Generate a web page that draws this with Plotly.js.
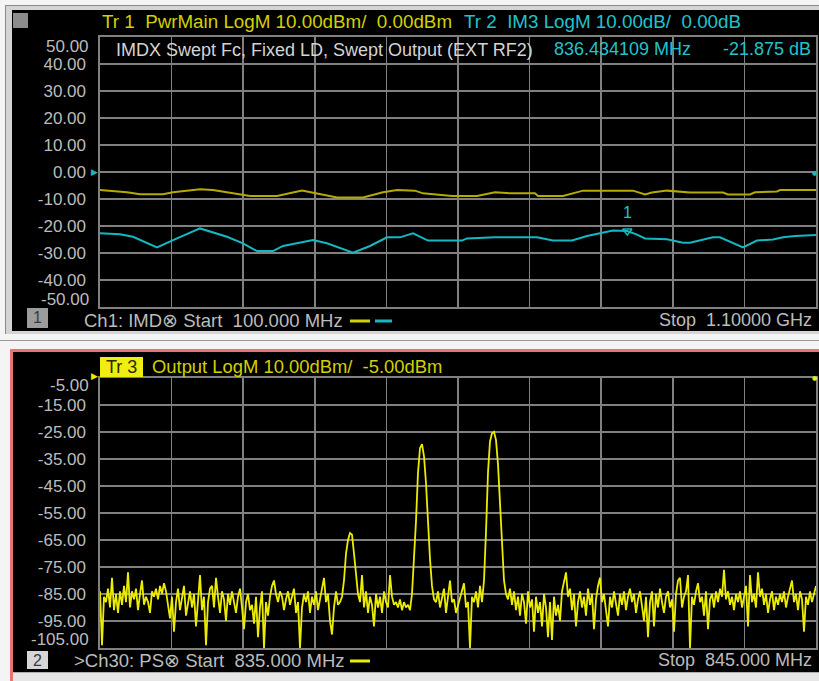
<!DOCTYPE html>
<html>
<head>
<meta charset="utf-8">
<script src="https://cdn.plot.ly/plotly-3.0.1.min.js"></script>
<style>
html,body{margin:0;padding:0;}
body{width:819px;height:681px;overflow:hidden;position:relative;background:#f4f4f4;}
.frame1{position:absolute;left:5px;top:5px;width:814px;height:328px;border-top:1px solid #8a8a8a;border-left:1px solid #8a8a8a;background:#d4d4d4;}
.panel1{position:absolute;left:12px;top:10px;width:807px;height:321px;background:#000;}
.sep{position:absolute;left:0;top:340px;width:819px;height:1px;background:#9a9a9a;}
.panel2{position:absolute;left:10px;top:349px;width:809px;height:332px;border-top:3px solid #e87474;border-left:3px solid #e87474;box-sizing:border-box;background:#000;}
.foot{position:absolute;left:13px;top:672px;width:806px;height:9px;background:#e6e6e6;border-top:1px solid #b0b0b0;}
#chart{position:absolute;left:0;top:0;width:819px;height:681px;}
</style>
</head>
<body>
<div class="frame1"></div>
<div class="panel1"></div>
<div class="sep"></div>
<div class="panel2"></div>
<div class="foot"></div>
<div id="chart"></div>
<script>
// ---- Channel 1 (swept Fc, 100 MHz .. 1.1 GHz) ----
const ch1Start = 100, ch1Stop = 1100;              // MHz
const tr1Freq = [100,137.7,155.9,188,202,239.7,257.8,285.8,309.5,347.2,365.4,382.1,403.1,431,467.3,495.3,514.8,539.9,551.1,591.6,626.5,651.7,672.6,707.5,711.7,746.6,774.6,844.4,861.2,870.9,891.9,910,924,970.1,977.1,1007.8,1014.8,1045.5,1049.7,1100];
const tr1PwrMain = [-6.7,-7.5,-8.2,-8.2,-7.5,-6.4,-6.7,-7.8,-8.9,-8.9,-7.8,-6.9,-8.0,-9.4,-9.4,-7.5,-6.7,-6.9,-7.9,-8.9,-8.9,-7.5,-7.9,-7.9,-8.9,-8.9,-6.9,-6.9,-8.3,-7.6,-6.9,-7.2,-7.6,-7.6,-8.3,-8.3,-7.5,-7.2,-6.7,-6.7];
const tr2Freq = [100,127.9,146.1,179.6,207.5,239.7,277.4,299.7,319.3,341.6,355.6,397.5,417,453.4,477.1,500.8,519,537.2,558.1,605.6,612.6,651.7,710.3,732.7,759.2,780.2,798.3,816.5,836.434109,850,861.2,891.9,914.2,924,956.1,965.9,998,1017.6,1039.9,1053.9,1070.7,1100];
const tr2IM3 = [-22.7,-23.1,-24.0,-27.9,-24.6,-20.9,-24.0,-26.4,-29.3,-29.3,-27.4,-25.2,-26.4,-29.9,-27.4,-24.2,-24.2,-22.7,-25.4,-25.4,-24.6,-24.2,-24.2,-25.4,-25.4,-23.7,-22.7,-21.7,-21.875,-23.2,-24.6,-24.9,-26.2,-26.2,-24.2,-24.2,-27.9,-25.4,-25.0,-24.2,-23.7,-23.3];
const marker1Freq = [836.434109];
const marker1Val = [-21.875];
const ch1Ticks = [40,30,20,10,0,-10,-20,-30,-40];
const ch1TickText = ["40.00","30.00","20.00","10.00","0.00","-10.00","-20.00","-30.00","-40.00"];

// ---- Channel 30 (spectrum, 835 .. 845 MHz) ----
const ch30Start = 835, ch30Stop = 845;             // MHz
const tr3Output = [
-84,-104,-86,-88,-83,-90,-79,-91,-85,-92,-84,-89,-82,-88,-77,-90,-84,-87,-83,-91,
-85,-80,-89,-86,-88,-92,-84,-86,-83,-87,-82,-85,-81,-84,-89,-94,-86,-99,-88,-83,
-91,-86,-82,-93,-88,-84,-90,-85,-97,-87,-78,-91,-86,-104,-88,-83,-82,-90,-79,-86,
-92,-84,-87,-95,-85,-89,-84,-88,-92,-86,-83,-90,-98,-88,-85,-91,-89,-96,-86,-101,
-90,-84,-105,-88,-93,-86,-82,-80,-85,-88,-84,-86,-91,-87,-84,-89,-86,-83,-92,-88,
-105,-90,-85,-88,-84,-92,-86,-89,-84,-91,-87,-83,-79,-88,-85,-95,-100,-90,-84,-89,
-88,-86,-80,-70,-65,-62.4,-63,-70,-78,-85,-88,-78,-90,-84,-92,-86,-89,-97,-85,-90,
-86,-92,-84,-88,-90,-78,-86,-89,-88,-90,-87,-91,-88,-90,-89,-91,-85,-72,-58,-40,
-31,-29.5,-34,-44,-60,-72,-82,-87,-88,-84,-90,-86,-83,-92,-85,-80,-88,-87,-92,-89,
-86,-84,-81,-90,-88,-105,-86,-88,-84,-90,-82,-88,-80,-62,-40,-28.5,-25.5,-24.9,-28,-37,
-52,-68,-80,-85,-87,-83,-89,-84,-91,-86,-93,-85,-88,-96,-84,-90,-87,-99,-86,-92,
-88,-97,-85,-90,-101,-88,-102,-86,-93,-89,-95,-84,-80,-77,-86,-83,-91,-85,-97,-88,
-84,-90,-86,-93,-83,-89,-85,-98,-87,-82,-79,-88,-85,-92,-97,-86,-90,-84,-88,-93,
-85,-89,-84,-91,-86,-83,-88,-85,-92,-87,-84,-90,-95,-86,-101,-88,-84,-97,-85,-90,
-83,-88,-92,-86,-84,-90,-87,-99,-85,-80,-79,-90,-86,-84,-78,-105,-86,-89,-84,-81,
-88,-86,-93,-84,-98,-87,-85,-90,-84,-88,-83,-86,-76,-87,-84,-89,-86,-91,-85,-88,
-84,-90,-86,-82,-97,-78,-88,-85,-90,-77,-86,-83,-89,-85,-92,-87,-84,-91,-86,-89,
-85,-88,-84,-90,-86,-83,-80,-88,-85,-91,-84,-87,-99,-86,-89,-84,-88,-85,-82
];
// sweep points of the instrument (evenly spaced between start and stop)
const tr3Freq = tr3Output.map((_, i) => ch30Start + i * (ch30Stop - ch30Start) / (tr3Output.length - 1));
const ch30Ticks = [-15,-25,-35,-45,-55,-65,-75,-85,-95];
const ch30TickText = ["-15.00","-25.00","-35.00","-45.00","-55.00","-65.00","-75.00","-85.00","-95.00"];

// ---- colours / fonts ----
const YEL_T = '#d2d000', YEL_1 = '#b4aa00', YEL_3 = '#ecec00', CYAN = '#14b8c2', CYAN_T = '#22c2cc';
const GRAY_T = '#bcbcbc', GRID = '#808080';
const FONT = 'Liberation Sans, Arial, sans-serif';

// pixel helpers for page furniture (plot area: x 100..816, y 37..648)
const PX = v => (v - 100) / 716;
const PY = v => (648 - v) / 611;

const traces = [
  {x: tr1Freq, y: tr1PwrMain, xaxis: 'x', yaxis: 'y', mode: 'lines', line: {color: YEL_1, width: 2}, hoverinfo: 'skip'},
  {x: tr2Freq, y: tr2IM3, xaxis: 'x', yaxis: 'y', mode: 'lines', line: {color: CYAN, width: 2}, hoverinfo: 'skip'},
  {x: marker1Freq, y: marker1Val, xaxis: 'x', yaxis: 'y', mode: 'markers', marker: {symbol: 'triangle-down-open', size: 8, color: CYAN, line: {width: 1.5, color: CYAN}}, hoverinfo: 'skip'},
  {x: tr3Freq, y: tr3Output, xaxis: 'x2', yaxis: 'y2', mode: 'lines', line: {color: YEL_3, width: 1.8}, hoverinfo: 'skip'}
];

const axBase = {showgrid: true, gridcolor: GRID, gridwidth: 1.6, zeroline: false, showline: true, mirror: true,
  linecolor: GRID, linewidth: 1.6, ticks: '', fixedrange: true};

function ann(text, x, y, color, opts) {
  return Object.assign({text: text, xref: 'paper', yref: 'paper', x: PX(x), y: PY(y), showarrow: false,
    xanchor: 'left', yanchor: 'middle', font: {family: FONT, size: 18, color: color}}, opts || {});
}
const TICKF = {family: FONT, size: 17, color: GRAY_T};

const annotations = [
  ann('Tr 1\u00a0\u00a0PwrMain LogM 10.00dBm/\u00a0\u00a00.00dBm', 100, 22, YEL_T, {font: {family: FONT, size: 18.8, color: YEL_T}}),
  ann('Tr 2\u00a0\u00a0IM3 LogM 10.00dB/\u00a0\u00a00.00dB', 462, 22, CYAN_T, {font: {family: FONT, size: 18.8, color: CYAN_T}}),
  ann('IMDX Swept Fc, Fixed LD, Swept Output (EXT RF2)', 114, 50, '#d4d4d4'),
  ann('836.434109 MHz', 552, 49, CYAN_T),
  ann('-21.875 dB', 813, 49, CYAN_T, {xanchor: 'right'}),
  ann('50.00', 91, 46, GRAY_T, {xanchor: 'right', font: TICKF}),
  ann('-50.00', 91, 299, GRAY_T, {xanchor: 'right', font: TICKF}),
  ann('1', 37.5, 318, '#3a3a3a', {xanchor: 'center', font: {family: FONT, size: 16, color: '#3a3a3a'}}),
  ann('Ch1: IMD\u2297 Start\u00a0\u00a0100.000 MHz', 82, 320, GRAY_T, {font: {family: FONT, size: 18.5, color: GRAY_T}}),
  ann('Stop\u00a0\u00a01.10000 GHz', 814, 320, GRAY_T, {xanchor: 'right'}),
  ann('\u25B6', 100, 172, CYAN, {xanchor: 'right', font: {family: 'DejaVu Sans', size: 9, color: CYAN}}),
  ann('\u25CF', 819, 172, CYAN, {xanchor: 'right', font: {family: 'DejaVu Sans', size: 6, color: CYAN}}),
  {text: '1', xref: 'x', yref: 'y', x: marker1Freq[0], y: marker1Val[0], yshift: 19, showarrow: false,
    font: {family: FONT, size: 16, color: CYAN_T}},
  // bottom panel
  ann('Tr 3', 121.5, 367, '#2a2a00', {xanchor: 'center'}),
  ann('Output LogM 10.00dBm/\u00a0\u00a0-5.00dBm', 150, 367, YEL_T, {font: {family: FONT, size: 18.4, color: YEL_T}}),
  ann('-5.00', 91, 385, GRAY_T, {xanchor: 'right', font: TICKF}),
  ann('-105.00', 91, 639, GRAY_T, {xanchor: 'right', font: TICKF}),
  ann('2', 37.5, 660, '#3a3a3a', {xanchor: 'center', font: {family: FONT, size: 16, color: '#3a3a3a'}}),
  ann('>Ch30: PS\u2297 Start\u00a0\u00a0835.000 MHz', 72, 660, GRAY_T, {font: {family: FONT, size: 18.5, color: GRAY_T}}),
  ann('Stop\u00a0\u00a0845.000 MHz', 814, 660, GRAY_T, {xanchor: 'right'}),
  ann('\u25B6', 100, 376, YEL_3, {xanchor: 'right', font: {family: 'DejaVu Sans', size: 9, color: YEL_3}}),
  ann('\u25CF', 819, 378, YEL_3, {xanchor: 'right', font: {family: 'DejaVu Sans', size: 6, color: YEL_3}})
];

function rect(x0, y0, x1, y1, fill) {
  return {type: 'rect', xref: 'paper', yref: 'paper', x0: PX(x0), x1: PX(x1), y0: PY(y1), y1: PY(y0),
    fillcolor: fill, line: {width: 0}, layer: 'above'};
}
function seg(x0, x1, y, color) {
  return {type: 'line', xref: 'paper', yref: 'paper', x0: PX(x0), x1: PX(x1), y0: PY(y), y1: PY(y),
    line: {color: color, width: 3}};
}
const shapes = [
  rect(13, 13, 28, 28, '#8c8c8c'),
  rect(27, 308, 48, 328, '#9c9c9c'),
  seg(350, 370, 321, YEL_T),
  seg(375, 392, 321, CYAN),
  rect(100, 357, 143, 377, '#f0ee10'),
  rect(27, 651, 48, 669, '#d6d6d6'),
  seg(350, 370, 661, YEL_3)
];

const layout = {
  width: 819, height: 681,
  margin: {l: 100, r: 3, t: 37, b: 33, pad: 0},
  paper_bgcolor: 'rgba(0,0,0,0)', plot_bgcolor: '#000',
  showlegend: false,
  xaxis: Object.assign({}, axBase, {domain: [0, 1], anchor: 'y', range: [ch1Start, ch1Stop], tick0: ch1Start, dtick: 100, showticklabels: false}),
  yaxis: Object.assign({}, axBase, {domain: [PY(307), 1], anchor: 'x', range: [-50, 50], tickvals: ch1Ticks, ticktext: ch1TickText,
    tickfont: TICKF, ticklabelstandoff: 9}),
  xaxis2: Object.assign({}, axBase, {domain: [0, 1], anchor: 'y2', range: [ch30Start, ch30Stop], tick0: ch30Start, dtick: 1, showticklabels: false}),
  yaxis2: Object.assign({}, axBase, {domain: [0, PY(378)], anchor: 'x2', range: [-105, -5], tickvals: ch30Ticks, ticktext: ch30TickText,
    tickfont: TICKF, ticklabelstandoff: 9}),
  annotations: annotations,
  shapes: shapes
};

Plotly.newPlot('chart', traces, layout, {staticPlot: true, displayModeBar: false});
</script>
</body>
</html>
